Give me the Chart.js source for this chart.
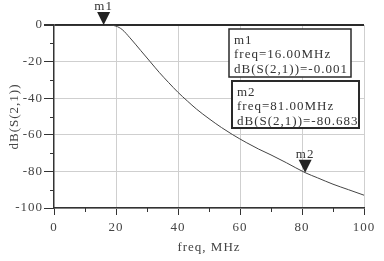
<!DOCTYPE html>
<html>
<head>
<meta charset="utf-8">
<style>
  html, body { margin: 0; padding: 0; background: #fff; }
  #wrap { position: relative; width: 384px; height: 261px; }
</style>
<script src="https://cdn.jsdelivr.net/npm/chart.js@4.4.1/dist/chart.umd.min.js"></script>
</head>
<body>
<div id="wrap"><canvas id="chart" width="384" height="261"></canvas></div>
<script>
  /* ========= Data ========= */
  const freqs = [0, 10, 16, 18, 20, 22, 24.5, 28, 31, 34, 37, 40, 43, 46, 50, 54, 57.5, 62, 66, 70, 75, 81, 85, 90, 95, 100];
  const s21   = [0, 0, -0.001, -0.05, -0.6, -2.5, -7, -14, -20, -26, -31.5, -36.8, -41.5, -46, -51.2, -56, -59.8, -64.2, -67.8, -71, -75.3, -80.683, -83.5, -87, -90, -93];

  const xMinorTicks = [10, 30, 50, 70, 90];
  const yMinorTicks = [-10, -30, -50, -70, -90];

  const markerNames = ["m1", "m2"];
  const markerFreqs = [16, 81];
  const markerVals  = [-0.001, -80.683];

  const FONT = "Liberation Serif";
  const INK = "#333";

  /* ========= Plugins ========= */
  const spacing = {
    id: "spacing",
    beforeLayout(chart) { chart.ctx.letterSpacing = "1px"; },
    beforeDraw(chart) { chart.ctx.letterSpacing = "1px"; }
  };

  const minorTicks = {
    id: "minorTicks",
    afterDraw(chart) {
      const { ctx, chartArea } = chart;
      const xs = chart.scales.x, ys = chart.scales.y;
      ctx.save();
      ctx.strokeStyle = INK;
      ctx.lineWidth = 1;
      ctx.beginPath();
      xMinorTicks.forEach(v => {
        const px = Math.round(xs.getPixelForValue(v)) + 0.5;
        ctx.moveTo(px, chartArea.bottom);
        ctx.lineTo(px, chartArea.bottom + 4);
      });
      yMinorTicks.forEach(v => {
        const py = Math.round(ys.getPixelForValue(v)) + 0.5;
        ctx.moveTo(chartArea.left - 4, py);
        ctx.lineTo(chartArea.left, py);
      });
      ctx.stroke();
      ctx.restore();
    }
  };

  const markers = {
    id: "markers",
    afterDatasetsDraw(chart) {
      const { ctx, chartArea } = chart;
      const xs = chart.scales.x, ys = chart.scales.y;
      ctx.save();
      ctx.letterSpacing = "1px";
      // triangles on the trace
      markerNames.forEach((name, i) => {
        const px = xs.getPixelForValue(markerFreqs[i]);
        const py = ys.getPixelForValue(markerVals[i]);
        ctx.fillStyle = "#222";
        ctx.beginPath();
        ctx.moveTo(px, py);
        ctx.lineTo(px - 6.5, py - 13);
        ctx.lineTo(px + 6.5, py - 13);
        ctx.closePath();
        ctx.fill();
        ctx.font = "13px '" + FONT + "'";
        ctx.textAlign = "center";
        ctx.textBaseline = "alphabetic";
        ctx.fillStyle = INK;
        ctx.fillText(name, px, py - 15);
      });

      // readout boxes
      const boxes = [
        { left: chartArea.right - 135, top: chartArea.top + 4, w: 122, h: 48, lw: 1.5 },
        { left: chartArea.right - 132, top: chartArea.top + 56, w: 127, h: 47, lw: 2 }
      ];
      markerNames.forEach((name, i) => {
        const b = boxes[i];
        ctx.fillStyle = "#fff";
        ctx.fillRect(b.left, b.top, b.w, b.h);
        ctx.strokeStyle = "#2a2a2a";
        ctx.lineWidth = b.lw;
        ctx.strokeRect(b.left, b.top, b.w, b.h);
        ctx.font = "13px '" + FONT + "'";
        ctx.textAlign = "left";
        ctx.fillStyle = INK;
        const lines = [
          name,
          "freq=" + markerFreqs[i].toFixed(2) + "MHz",
          "dB(S(2,1))=" + markerVals[i].toFixed(3)
        ];
        lines.forEach((t, k) => ctx.fillText(t, b.left + 5, b.top + 14.5 + k * 14.5));
      });
      ctx.restore();
    }
  };

  /* ========= Chart ========= */
  const chart = new Chart(document.getElementById("chart"), {
    type: "line",
    data: {
      labels: freqs,
      datasets: [{
        data: freqs.map((f, i) => ({ x: f, y: s21[i] })),
        borderColor: "#444",
        borderWidth: 1,
        pointRadius: 0,
        cubicInterpolationMode: "monotone",
        fill: false
      }]
    },
    plugins: [spacing, minorTicks, markers],
    options: {
      responsive: false,
      animation: false,
      layout: { padding: { top: 25, right: 20, left: 0, bottom: 0 } },
      plugins: { legend: { display: false }, tooltip: { enabled: false } },
      scales: {
        x: {
          type: "linear",
          min: 0, max: 100,
          ticks: { stepSize: 20, padding: 5, color: "#444", font: { family: FONT, size: 13 } },
          grid: {
            color: c => (c.tick && c.tick.value === 0) ? "rgba(0,0,0,0)" : "#cfcfcf",
            tickColor: INK,
            tickLength: 7
          },
          border: { color: INK, width: 1.5 },
          title: {
            display: true, text: "freq, MHz", color: "#444",
            font: { family: FONT, size: 13 }, padding: { top: 0, bottom: 6 }
          },
          afterFit(scale) { scale.height = 53; }
        },
        y: {
          min: -100, max: 0,
          ticks: { stepSize: 20, padding: 1, color: "#444", font: { family: FONT, size: 13 } },
          grid: {
            color: c => (c.tick && c.tick.value === 0) ? "#2a2a2a" : "#cfcfcf",
            lineWidth: c => (c.tick && c.tick.value === 0) ? 2 : 1,
            tickColor: INK,
            tickLength: 10
          },
          border: { color: INK, width: 1.5 },
          title: {
            display: true, text: "dB(S(2,1))", color: "#444",
            font: { family: FONT, size: 13 }, padding: { top: 7, bottom: 0 }
          },
          afterFit(scale) { scale.width = 54; }
        }
      }
    }
  });
</script>
</body>
</html>
